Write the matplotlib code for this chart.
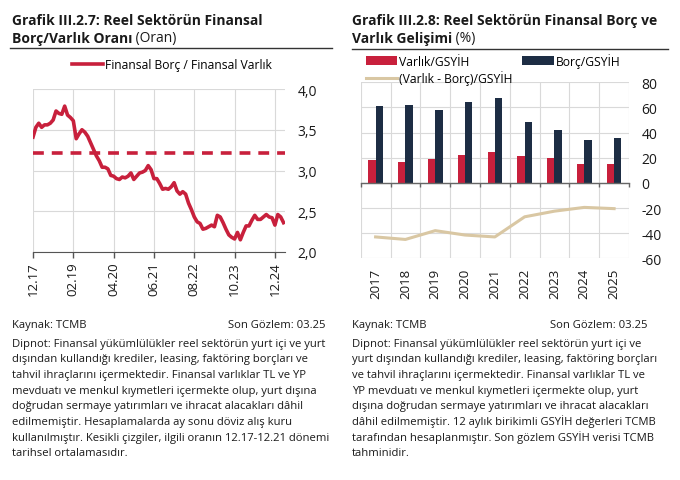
import numpy as np
import matplotlib
matplotlib.use('Agg')
import matplotlib.pyplot as plt

plt.rcParams['font.family'] = ['Open Sans', 'DejaVu Sans']
plt.rcParams['axes.unicode_minus'] = False

# left chart: monthly ratio 12.17 - 03.25
ratio = [3.41, 3.53, 3.58, 3.53, 3.56, 3.56, 3.58, 3.62, 3.73, 3.70,
         3.69, 3.79, 3.68, 3.65, 3.61, 3.39, 3.45, 3.50, 3.47, 3.42,
         3.34, 3.26, 3.18, 3.12, 3.04, 3.04, 3.02, 2.94, 2.93, 2.90,
         2.89, 2.92, 2.91, 2.93, 2.97, 2.89, 2.93, 2.97, 2.98, 3.00,
         3.06, 3.01, 2.90, 2.90, 2.84, 2.77, 2.78, 2.77, 2.80, 2.85,
         2.75, 2.71, 2.74, 2.71, 2.60, 2.52, 2.43, 2.37, 2.35, 2.28,
         2.29, 2.31, 2.33, 2.31, 2.45, 2.43, 2.36, 2.28, 2.21, 2.18,
         2.16, 2.24, 2.15, 2.24, 2.32, 2.32, 2.39, 2.45, 2.40, 2.40,
         2.43, 2.46, 2.43, 2.42, 2.33, 2.46, 2.43, 2.36]
hist_avg = 3.22
month_ticks = [0, 14, 28, 42, 56, 70, 84]
month_labels = ['12.17', '02.19', '04.20', '06.21', '08.22', '10.23', '12.24']

# right chart: annual, % of GDP
years = ['2017', '2018', '2019', '2020', '2021', '2022', '2023', '2024', '2025']
varlik = [17.8, 16.7, 19.1, 22.3, 24.4, 21.3, 19.5, 14.7, 14.9]
borc = [61.3, 61.9, 57.6, 64.5, 67.7, 48.8, 41.9, 34.4, 35.7]
net = [-43, -45, -38, -41.5, -43, -27, -22.5, -19.5, -20.5]

RED = '#c8203c'
NAVY = '#1d2d44'
TAN = '#d9c7a3'
GRID = '#d9d9d9'
TXT = '#1a1a1a'

fig = plt.figure(figsize=(6.8, 4.81), dpi=100)
W, H = 680.0, 481.0

def fx(px):
    return px / W

def fy(py):
    return 1 - py / H

# ---- titles ----
def title(x, y1, y2, line1, line2_bold, line2_rest, ux0, ux1, uy):
    fig.text(fx(x), fy(y1), line1, fontsize=10, fontweight='bold', color=TXT, va='baseline')
    t = fig.text(fx(x), fy(y2), line2_bold, fontsize=10, fontweight='bold', color=TXT, va='baseline')
    plt.annotate(' ' + line2_rest, xy=(1, 0), xycoords=t, va='bottom', ha='left',
                 fontsize=10, color=TXT, annotation_clip=False)
    fig.add_artist(plt.Line2D([fx(ux0), fx(ux1)], [fy(uy), fy(uy)], color='#333333', lw=1.0))

# ---- left chart ----
ax1 = fig.add_axes([fx(33), fy(253), fx(285) - fx(33), fy(90) - fy(253)])
x = np.arange(len(ratio))
ax1.plot(x, ratio, color=RED, lw=2.6, solid_joinstyle='round', label='Finansal Borç / Finansal Varlık')
ax1.axhline(hist_avg, color=RED, lw=2.6, dashes=(3, 2.2))
ax1.set_xlim(0, len(ratio) - 0.5)
ax1.set_ylim(2.0, 4.0)
ax1.set_yticks([2.0, 2.5, 3.0, 3.5, 4.0])
ax1.set_yticklabels([f'{v:.1f}'.replace('.', ',') for v in [2.0, 2.5, 3.0, 3.5, 4.0]])
ax1.set_xticks(month_ticks)
ax1.set_xticklabels(month_labels, rotation=90)
ax1.yaxis.tick_right()
ax1.tick_params(axis='y', length=0, pad=9, labelsize=10, colors=TXT)
ax1.tick_params(axis='x', length=4, width=1, color='#555555', pad=3, labelsize=9.5, labelcolor=TXT)
for s in ['top', 'right', 'left']:
    ax1.spines[s].set_visible(False)
ax1.spines['bottom'].set_color('#555555')
ax1.grid(True, color=GRID, lw=0.8)
ax1.set_axisbelow(True)
ax1.legend(loc='center left', bbox_to_anchor=(fx(72), fy(66)), bbox_transform=fig.transFigure,
           frameon=False, fontsize=8.7, handlelength=2.6, handletextpad=0.15,
           borderpad=0, borderaxespad=0)

# ---- right chart ----
ax2 = fig.add_axes([fx(360.7), fy(259.3), fx(629) - fx(360.7), fy(83.3) - fy(259.3)])
xi = np.arange(len(years))
w = 0.245
ax2.bar(xi - w / 2, varlik, w, color=RED, label='Varlık/GSYİH', zorder=3)
ax2.bar(xi + w / 2, borc, w, color=NAVY, label='Borç/GSYİH', zorder=3)
ax2.plot(xi, net, color=TAN, lw=2.2, label='(Varlık - Borç)/GSYİH', zorder=3)
ax2.set_xlim(-0.5, len(years) - 0.5)
ax2.set_ylim(-60, 80)
ax2.set_yticks(range(-60, 81, 20))
ax2.yaxis.tick_right()
ax2.tick_params(axis='y', length=0, pad=9, labelsize=10, colors=TXT)
ax2.set_xticks(xi)
ax2.set_xticklabels(years, rotation=90)
ax2.tick_params(axis='x', which='major', length=0, pad=7, labelsize=9.5, labelcolor=TXT)
ax2.set_xticks(np.arange(-0.5, len(years), 1), minor=True)
ax2.tick_params(axis='x', which='minor', length=0)
ax2.grid(True, which='minor', axis='x', color=GRID, lw=0.8)
ax2.grid(True, which='major', axis='y', color=GRID, lw=0.8)
ax2.set_axisbelow(True)
for s in ['top', 'right', 'left', 'bottom']:
    ax2.spines[s].set_visible(False)
zero = ax2.secondary_xaxis(60 / 140)
zero.set_xticks(np.arange(-0.5, len(years), 1))
zero.set_xticklabels([])
zero.tick_params(length=3, width=1, color='#666666', direction='out')
zero.spines['bottom'].set_color('#666666')
zero.spines['bottom'].set_linewidth(1)
zero.set_zorder(4)
h, l = ax2.get_legend_handles_labels()
# ncol=2 fills by column: Varlık, line | Borç
hh = [h[1], h[0], h[2]]
ll = [l[1], l[0], l[2]]
ax2.legend(hh, ll, ncol=2, loc='upper left', bbox_to_anchor=(fx(366), fy(54)),
           bbox_transform=fig.transFigure, frameon=False, fontsize=8.7,
           handlelength=2.6, handletextpad=0.15, columnspacing=0.8,
           labelspacing=0.2, borderpad=0, borderaxespad=0)

# ---- titles ----
title(12, 25, 43, 'Grafik III.2.7: Reel Sektörün Finansal', 'Borç/Varlık Oranı', '(Oran)', 10, 332, 48.5)
title(352, 25, 43, 'Grafik III.2.8: Reel Sektörün Finansal Borç ve', 'Varlık Gelişimi', '(%)', 352, 668, 50)

# ---- footers ----
note_left = [
    'Dipnot: Finansal yükümlülükler reel sektörün yurt içi ve yurt',
    'dışından kullandığı krediler, leasing, faktöring borçları ve',
    'tahvil ihraçlarını içermektedir. Finansal varlıklar TL ve YP',
    'mevduatı ve menkul kıymetleri içermekte olup, yurt dışına',
    'doğrudan sermaye yatırımları ve ihracat alacakları dâhil',
    'edilmemiştir. Hesaplamalarda ay sonu döviz alış kuru',
    'kullanılmıştır. Kesikli çizgiler, ilgili oranın 12.17-12.21 dönemi',
    'tarihsel ortalamasıdır.',
]
note_right = [
    'Dipnot: Finansal yükümlülükler reel sektörün yurt içi ve',
    'yurt dışından kullandığı krediler, leasing, faktöring borçları',
    've tahvil ihraçlarını içermektedir. Finansal varlıklar TL ve',
    'YP mevduatı ve menkul kıymetleri içermekte olup, yurt',
    'dışına doğrudan sermaye yatırımları ve ihracat alacakları',
    'dâhil edilmemiştir. 12 aylık birikimli GSYİH değerleri TCMB',
    'tarafından hesaplanmıştır. Son gözlem GSYİH verisi TCMB',
    'tahminidir.',
]

def footer(x0, x1, lines):
    fig.text(fx(x0), fy(328), 'Kaynak: TCMB', fontsize=8.1, color=TXT, va='baseline')
    fig.text(fx(x1), fy(328), 'Son Gözlem: 03.25', fontsize=8.1, color=TXT, va='baseline', ha='right')
    for i, s in enumerate(lines):
        fig.text(fx(x0), fy(346.5 + i * 15.7), s, fontsize=8.1, color=TXT, va='baseline')

footer(12, 325, note_left)
footer(352, 648, note_right)

fig.savefig('out.png', dpi=100)
